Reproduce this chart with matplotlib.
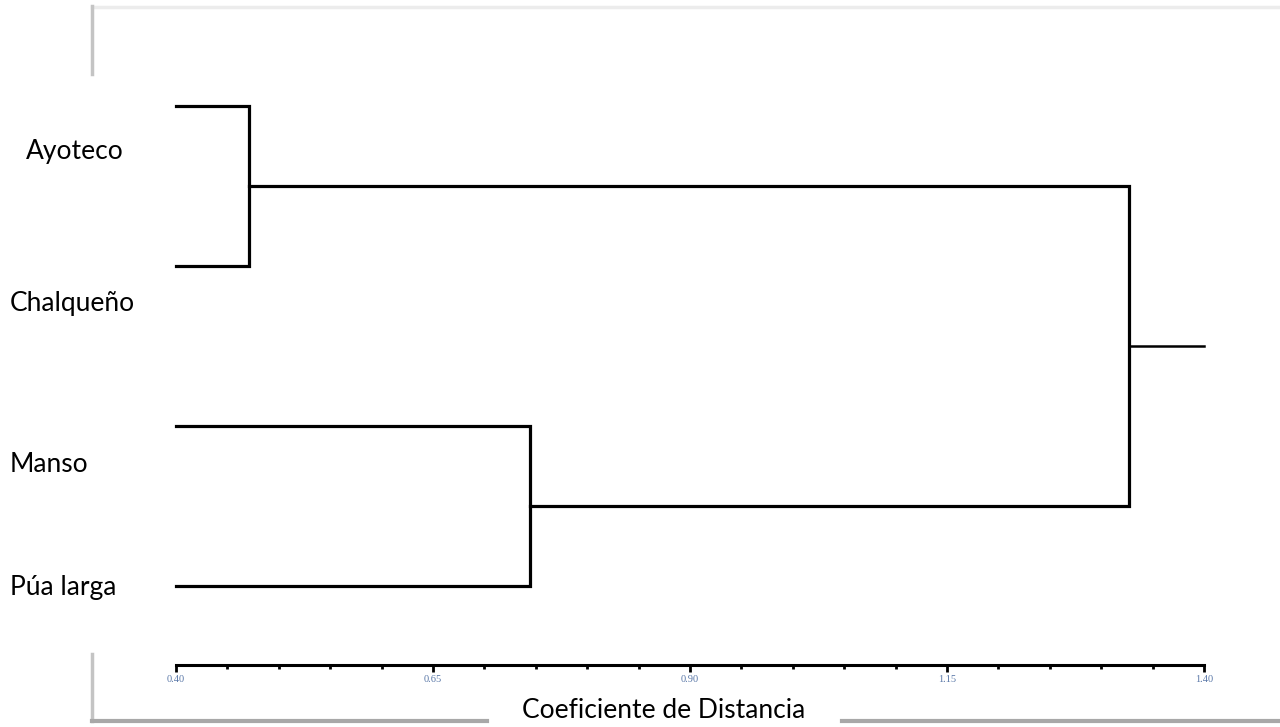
import numpy as np
import matplotlib.pyplot as plt
from matplotlib.lines import Line2D
from matplotlib.ticker import MultipleLocator, FixedLocator

# Data: leaves (top to bottom) and merge distances
leaves = ["Ayoteco", "Chalqueño", "Manso", "Púa larga"]
leaf_start = 0.40
merge_ayo_chal = 0.471
merge_manso_pua = 0.744
merge_root = 1.327
root_end = 1.40
major_ticks = [0.40, 0.65, 0.90, 1.15, 1.40]
tick_labels = ["0.40", "0.65", "0.90", "1.15", "1.40"]
x_label = "Coeficiente de Distancia"

W, H = 1280, 727
fig = plt.figure(figsize=(W / 100, H / 100), dpi=100)

def px(x, y):
    # pixel position (from top-left) -> figure fraction
    return x / W, 1 - y / H

# axes: leaf 3 (top) at y=106px, leaf 0 (bottom) at y=586px, x 0.40 at 176px, 1.40 at 1204px
ax = fig.add_axes([176 / W, 1 - 586 / H, 1028 / W, 480 / H])
ax.set_xlim(0.40, 1.40)
ax.set_ylim(0, 3)

ypos = {name: 3 - i for i, name in enumerate(leaves)}
lw = 2.3

def clade(a, b, h):
    ya, yb = ypos[a], ypos[b]
    ax.plot([leaf_start, h, h, leaf_start], [ya, ya, yb, yb], color='black', lw=lw,
            solid_joinstyle='miter', clip_on=False)
    return (ya + yb) / 2

y1 = clade("Ayoteco", "Chalqueño", merge_ayo_chal)
y2 = clade("Manso", "Púa larga", merge_manso_pua)
ax.plot([merge_ayo_chal, merge_root, merge_root, merge_manso_pua], [y1, y1, y2, y2],
        color='black', lw=lw, solid_joinstyle='miter', clip_on=False)
ax.plot([merge_root, root_end], [(y1 + y2) / 2] * 2, color='black', lw=1.8, clip_on=False)

# axis styling
for s in ['left', 'top', 'right']:
    ax.spines[s].set_visible(False)
ax.spines['bottom'].set_position(('outward', 79 * 0.72))
ax.spines['bottom'].set_linewidth(2.2)
ax.set_yticks([])
ax.xaxis.set_major_locator(FixedLocator(major_ticks))
ax.xaxis.set_minor_locator(MultipleLocator(0.05))
ax.set_xticklabels(tick_labels, fontsize=7.5, family='Liberation Serif', color='#5a78a8')
ax.tick_params(axis='x', which='major', length=5, width=2, pad=2.5)
ax.tick_params(axis='x', which='minor', length=3, width=2)
ax.patch.set_alpha(0)

# leaf labels
label_px = {"Ayoteco": (26, 152), "Chalqueño": (10, 303), "Manso": (10, 465), "Púa larga": (10, 587)}
for name in leaves:
    x, y = px(*label_px[name])
    fig.text(x, y, name, fontsize=19, family='Lato', va='center', ha='left')

# frame shadow lines
def fline(x0, y0, x1, y1, color, lw):
    a, b = px(x0, y0)
    c, d = px(x1, y1)
    fig.add_artist(Line2D([a, c], [b, d], color=color, lw=lw))

fline(92, 7, 1280, 7, '#ececec', 2.5)
fline(92, 6, 92, 74, '#c4c4c4', 2.5)
fline(92, 654, 92, 721, '#c4c4c4', 2.5)
fline(92, 721, 487, 721, '#a8a8a8', 3)
fline(842, 721, 1280, 721, '#a8a8a8', 3)

xl, yl = px(664, 711)
fig.text(xl, yl, x_label, fontsize=19, family='Lato', va='center', ha='center')

fig.savefig('out.png', dpi=100)
